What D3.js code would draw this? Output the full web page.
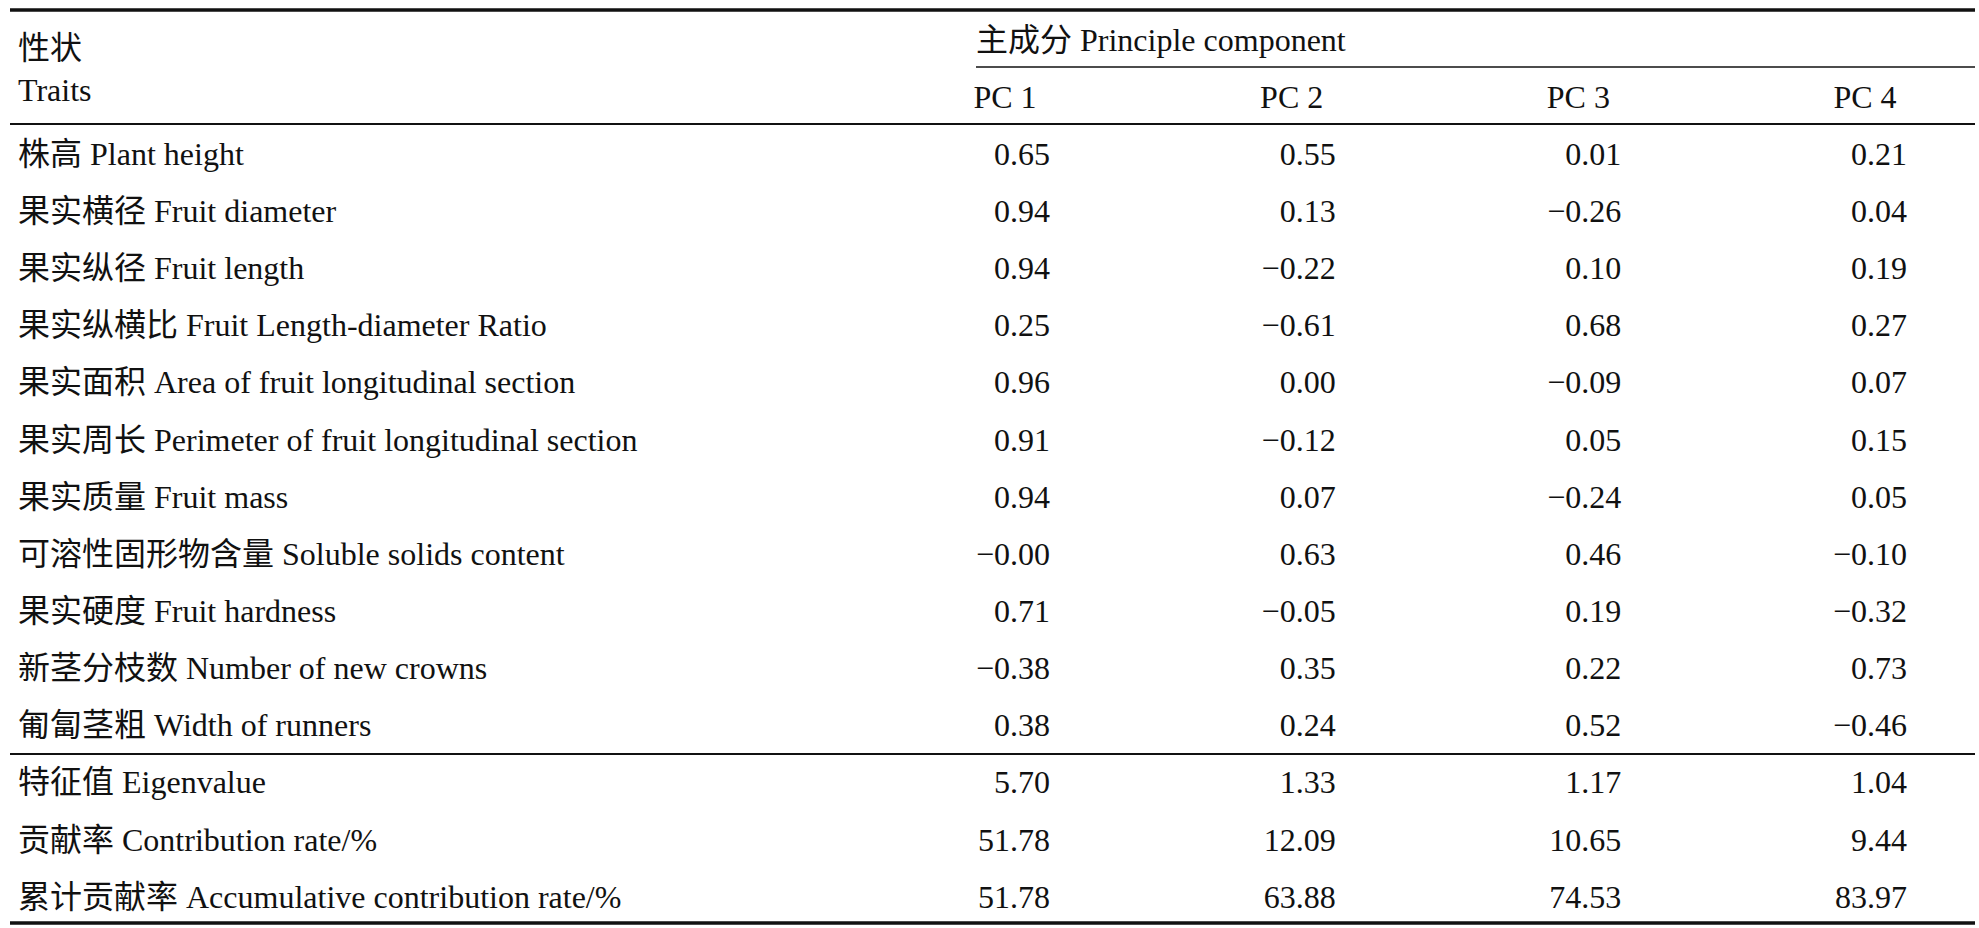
<!DOCTYPE html>
<html><head><meta charset="utf-8">
<script src="https://cdn.jsdelivr.net/npm/d3@7"></script>
<style>body{margin:0;background:#fff}text{font-family:"Liberation Serif","Noto Sans CJK SC",serif;fill:#111}</style>
</head><body>
<script>
const traits = ["株高 Plant height","果实横径 Fruit diameter","果实纵径 Fruit length","果实纵横比 Fruit Length-diameter Ratio","果实面积 Area of fruit longitudinal section","果实周长 Perimeter of fruit longitudinal section","果实质量 Fruit mass","可溶性固形物含量 Soluble solids content","果实硬度 Fruit hardness","新茎分枝数 Number of new crowns","匍匐茎粗 Width of runners"];
const pc1 = [0.65,0.94,0.94,0.25,0.96,0.91,0.94,-0.00,0.71,-0.38,0.38];
const pc2 = [0.55,0.13,-0.22,-0.61,0.00,-0.12,0.07,0.63,-0.05,0.35,0.24];
const pc3 = [0.01,-0.26,0.10,0.68,-0.09,0.05,-0.24,0.46,0.19,0.22,0.52];
const pc4 = [0.21,0.04,0.19,0.27,0.07,0.15,0.05,-0.10,-0.32,0.73,-0.46];
const statLabels = ["特征值 Eigenvalue","贡献率 Contribution rate/%","累计贡献率 Accumulative contribution rate/%"];
const statPc1 = [5.70,51.78,51.78];
const statPc2 = [1.33,12.09,63.88];
const statPc3 = [1.17,10.65,74.53];
const statPc4 = [1.04,9.44,83.97];
const pcLabels = ["PC 1","PC 2","PC 3","PC 4"];

const W = 1979, H = 928;
const svg = d3.select("body").append("svg").attr("width", W).attr("height", H);
const fs = 32;
const fmt = v => (v < 0 || Object.is(v, -0) ? "\u2212" : "") + Math.abs(v).toFixed(2);

const rows = traits.map((t, i) => ({label: t, vals: [pc1[i], pc2[i], pc3[i], pc4[i]]}))
  .concat(statLabels.map((t, i) => ({label: t, vals: [statPc1[i], statPc2[i], statPc3[i], statPc4[i]]})));

const y = d3.scaleLinear().domain([0, 10]).range([154, 725]);
const rowY = i => i < 11 ? y(i) : 782 + (i - 11) * 57.5;
const colRight = d3.scaleLinear().domain([0, 3]).range([1050, 1907]);
const colMid = d3.scaleLinear().domain([0, 3]).range([1005, 1865]);

function line(y0, x0, w) {
  svg.append("line").attr("x1", x0).attr("x2", 1975).attr("y1", y0).attr("y2", y0)
    .attr("stroke", "#111").attr("stroke-width", w);
}
line(10, 10, 3.5); line(67, 976, 1.6); line(124, 10, 2); line(754, 10, 2); line(923, 10, 3.5);

svg.append("text").attr("x", 18).attr("y", 59).attr("font-size", fs).text("性状");
svg.append("text").attr("x", 18).attr("y", 101).attr("font-size", fs).text("Traits");
svg.append("text").attr("x", 976).attr("y", 51).attr("font-size", fs).text("主成分 Principle component");
svg.selectAll(".pc").data(pcLabels).enter().append("text")
  .attr("x", (d, i) => colMid(i)).attr("y", 108).attr("font-size", fs)
  .attr("text-anchor", "middle").text(d => d);

const g = svg.selectAll(".row").data(rows).enter().append("g")
  .attr("transform", (d, i) => `translate(0,${rowY(i) + 11})`);
g.append("text").attr("x", 18).attr("font-size", fs).text(d => d.label);
g.selectAll(".v").data(d => d.vals.map((v, j) => ({v, j}))).enter().append("text")
  .attr("x", d => colRight(d.j)).attr("font-size", fs).attr("text-anchor", "end")
  .text(d => fmt(d.v));
</script>
</body></html>
